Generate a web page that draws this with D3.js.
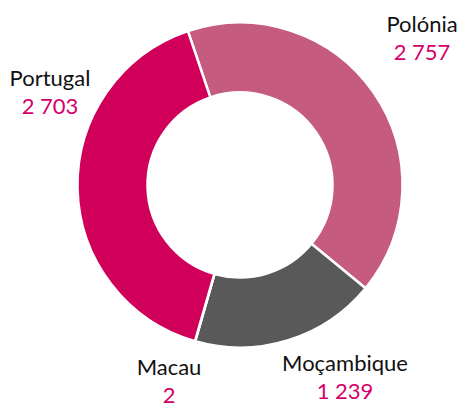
<!DOCTYPE html>
<html lang="pt">
<head>
<meta charset="UTF-8">
<script src="https://d3js.org/d3.v7.min.js"></script>
<style>
  body { margin: 0; background: #fff; }
  text { font-family: Lato, "Open Sans", sans-serif; }
</style>
</head>
<body>
<svg id="chart" width="461" height="406"></svg>
<script>
// data, in drawing order (clockwise from the start angle)
const countries = ["Polónia", "Moçambique", "Macau", "Portugal"];
const values = [2757, 1239, 2, 2703];
const valueLabels = ["2 757", "1 239", "2", "2 703"];
const colors = ["#C55B7E", "#595959", "#D6006A", "#D0005A"];

// layout
const cx = 240, cy = 185;
const outerR = 162.5, innerR = 92.5;
const startDeg = -18.7;
// label centre (x) and first-line baseline (y)
const labelPos = [[422, 32], [345, 371], [169, 375], [50, 86]];
const lineGap = 27.5;

const svg = d3.select("#chart");
const g = svg.append("g").attr("transform", `translate(${cx},${cy})`);

const start = startDeg * Math.PI / 180;
const pie = d3.pie().sort(null).startAngle(start).endAngle(start + 2 * Math.PI);
const arc = d3.arc().innerRadius(innerR).outerRadius(outerR);

const arcs = pie(values);

g.selectAll("path")
  .data(arcs)
  .enter().append("path")
  .attr("d", arc)
  .attr("fill", (d, i) => colors[i])
  .attr("stroke", "#fff")
  .attr("stroke-width", 2.5)
  .attr("stroke-linejoin", "miter");

const labels = svg.selectAll("g.lbl")
  .data(countries)
  .enter().append("g")
  .attr("class", "lbl")
  .attr("transform", (d, i) => `translate(${labelPos[i][0]},${labelPos[i][1]})`);

labels.append("text")
  .attr("text-anchor", "middle")
  .attr("font-size", 22)
  .attr("fill", "#111")
  .text(d => d);

labels.append("text")
  .attr("text-anchor", "middle")
  .attr("y", lineGap)
  .attr("font-size", 22)
  .attr("fill", "#D6006A")
  .text((d, i) => valueLabels[i]);
</script>
</body>
</html>
